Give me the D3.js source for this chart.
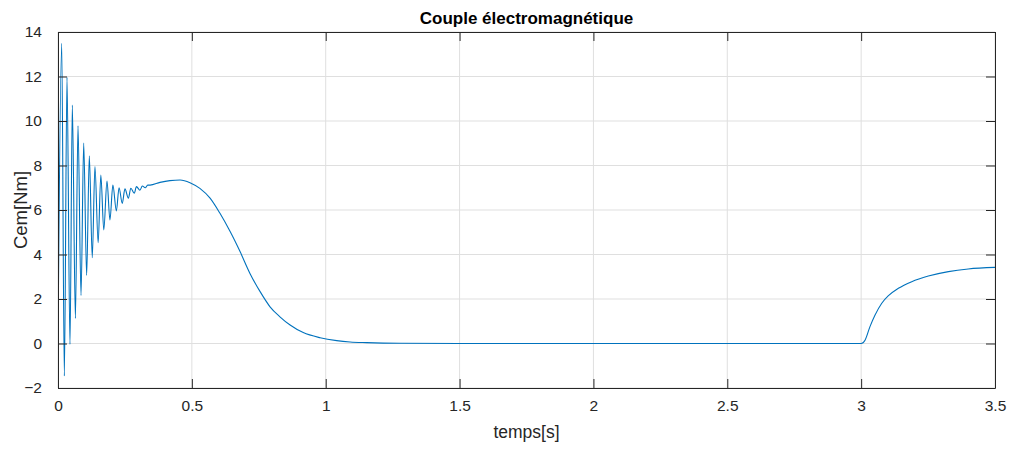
<!DOCTYPE html>
<html>
<head>
<meta charset="utf-8">
<script src="https://cdn.jsdelivr.net/npm/d3@7"></script>
<style>
  body { margin: 0; background: #fff; }
  svg { display: block; font-family: "Liberation Sans", Arial, sans-serif; }
</style>
</head>
<body>
<div id="chart"></div>
<script>
// time [s] and torque [Nm]
const time = [
  0, 0.0138, 0.0237, 0.0336, 0.0448, 0.0535, 0.065, 0.0747, 0.086, 0.096,
  0.107, 0.117, 0.128, 0.138, 0.150, 0.160, 0.171, 0.183, 0.194, 0.205,
  0.218, 0.228, 0.240, 0.250, 0.263, 0.272, 0.285, 0.293, 0.306, 0.315,
  0.326, 0.335, 0.344, 0.381, 0.418, 0.456, 0.493, 0.530, 0.568, 0.605,
  0.643, 0.680, 0.717, 0.755, 0.792, 0.829, 0.867, 0.916, 0.979, 1.041,
  1.091, 1.153, 1.278, 1.5, 2.0, 2.5, 3.0, 3.015, 3.033, 3.052,
  3.077, 3.102, 3.139, 3.189, 3.251, 3.326, 3.40, 3.5
];
const cem = [
  0, 13.49, -1.46, 11.96, -0.04, 10.72, 1.13, 9.78, 2.16, 9.01,
  3.06, 8.44, 3.86, 7.95, 4.53, 7.57, 5.10, 7.30, 5.55, 7.12,
  5.96, 7.00, 6.30, 6.95, 6.53, 6.98, 6.75, 7.05, 6.89, 7.08,
  7.00, 7.12, 7.12, 7.24, 7.32, 7.35, 7.23, 6.97, 6.53, 5.85,
  5.03, 4.13, 3.15, 2.33, 1.65, 1.20, 0.83, 0.49, 0.26, 0.13,
  0.07, 0.04, 0.01, 0.0, 0.0, 0.0, 0.0, 0.16, 0.76, 1.28,
  1.81, 2.15, 2.48, 2.78, 3.03, 3.23, 3.35, 3.42
];
const xTicks = [0, 0.5, 1, 1.5, 2, 2.5, 3, 3.5];
const yTicks = [-2, 0, 2, 4, 6, 8, 10, 12, 14];

const width = 1015, height = 450;
const margin = { top: 32, right: 20, bottom: 62, left: 58 };
const iw = width - margin.left - margin.right;
const ih = height - margin.top - margin.bottom;

const svg = d3.select("#chart").append("svg")
  .attr("width", width).attr("height", height);

const g = svg.append("g").attr("transform", `translate(${margin.left},${margin.top})`);

const x = d3.scaleLinear().domain([0, 3.5]).range([0, iw]);
const y = d3.scaleLinear().domain([-2, 14]).range([ih, 0]);

// grid
g.append("g").selectAll("line").data(xTicks).join("line")
  .attr("x1", d => x(d)).attr("x2", d => x(d))
  .attr("y1", 0).attr("y2", ih)
  .attr("stroke", "#dfdfdf").attr("stroke-width", 1);
g.append("g").selectAll("line").data(yTicks).join("line")
  .attr("y1", d => y(d)).attr("y2", d => y(d))
  .attr("x1", 0).attr("x2", iw)
  .attr("stroke", "#dfdfdf").attr("stroke-width", 1);

// data line
g.append("clipPath").attr("id", "clip")
  .append("rect").attr("width", iw).attr("height", ih);

const data = time.map((t, i) => [t, cem[i]]);
const line = d3.line()
  .x(d => x(d[0]))
  .y(d => y(d[1]))
  .curve(d3.curveMonotoneX);

g.append("path")
  .datum(data)
  .attr("clip-path", "url(#clip)")
  .attr("fill", "none")
  .attr("stroke", "#0072BD")
  .attr("stroke-width", 1.1)
  .attr("d", line);

// axes, ticks inward on all sides (matlab box)
const tickLen = 9;
const axisColor = "#262626";

const styleAxis = sel => {
  sel.select(".domain").attr("stroke", axisColor);
  sel.selectAll(".tick line").attr("stroke", axisColor);
  sel.selectAll(".tick text").attr("fill", axisColor).attr("font-size", 15.5);
};

g.append("g").attr("transform", `translate(0,${ih})`)
  .call(d3.axisBottom(x).tickValues(xTicks).tickFormat(d3.format("")).tickSizeInner(-tickLen).tickSizeOuter(0).tickPadding(12))
  .call(styleAxis);
g.append("g")
  .call(d3.axisTop(x).tickValues(xTicks).tickFormat("").tickSizeInner(-tickLen).tickSizeOuter(0))
  .call(styleAxis);
g.append("g")
  .call(d3.axisLeft(y).tickValues(yTicks).tickSizeInner(-tickLen).tickSizeOuter(0).tickPadding(16))
  .call(styleAxis);
g.append("g").attr("transform", `translate(${iw},0)`)
  .call(d3.axisRight(y).tickValues(yTicks).tickFormat("").tickSizeInner(-tickLen).tickSizeOuter(0))
  .call(styleAxis);

// labels
svg.append("text")
  .attr("x", margin.left + iw / 2).attr("y", 24)
  .attr("text-anchor", "middle")
  .attr("font-size", 17).attr("font-weight", "bold").attr("fill", "#000")
  .text("Couple électromagnétique");

svg.append("text")
  .attr("x", margin.left + iw / 2).attr("y", 438)
  .attr("text-anchor", "middle")
  .attr("font-size", 17.5).attr("fill", axisColor)
  .text("temps[s]");

svg.append("text")
  .attr("transform", `translate(27,${margin.top + ih / 2}) rotate(-90)`)
  .attr("text-anchor", "middle")
  .attr("font-size", 18.5).attr("fill", axisColor)
  .text("Cem[Nm]");
</script>
</body>
</html>
